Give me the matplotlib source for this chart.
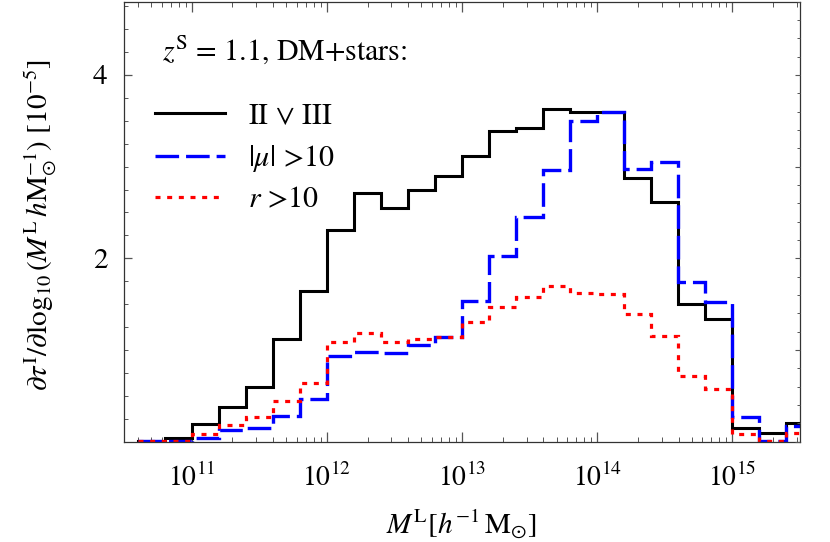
import numpy as np
import matplotlib
matplotlib.use('Agg')
import matplotlib.pyplot as plt
from matplotlib.ticker import MultipleLocator, FixedLocator, LogLocator, NullFormatter

plt.rcParams['mathtext.fontset'] = 'stix'
plt.rcParams['font.family'] = ['STIXGeneral', 'DejaVu Serif']
plt.rcParams['lines.scale_dashes'] = False

# bin edges in log10(M / [h^-1 Msun])
log_edges = [10.6, 10.8, 11.0, 11.2, 11.4, 11.6, 11.8, 12.0, 12.2, 12.4, 12.6,
             12.8, 13.0, 13.2, 13.4, 13.6, 13.8, 14.0, 14.2, 14.4, 14.6, 14.8,
             15.0, 15.2, 15.4, 15.6]

# II v III (solid black)
vals_any = [0.01, 0.04, 0.19, 0.375, 0.60, 1.12, 1.64, 2.31, 2.71, 2.545, 2.74,
            2.90, 3.115, 3.39, 3.42, 3.625, 3.59, 3.60, 2.88, 2.61, 1.50, 1.335,
            0.153, 0.10, 0.20]
# |mu| > 10 (dashed blue)
vals_mu = [0.005, 0.01, 0.04, 0.13, 0.145, 0.28, 0.46, 0.93, 0.98, 0.97, 1.055,
           1.145, 1.53, 2.02, 2.45, 2.96, 3.50, 3.60, 2.975, 3.05, 1.74, 1.52,
           0.265, 0.005, 0.17]
# r > 10 (dotted red)
vals_r = [0.005, 0.01, 0.085, 0.18, 0.265, 0.44, 0.64, 1.09, 1.18, 1.085, 1.115,
          1.145, 1.30, 1.465, 1.58, 1.70, 1.625, 1.61, 1.39, 1.15, 0.715, 0.575,
          0.08, 0.005, 0.10]

labels = [r'II $\vee$ III', r'$|\mu|$ >10', r'$r$ >10']
title = r'$z^{\mathrm{S}}$ = 1.1, DM+stars:'

fig = plt.figure(figsize=(8.3, 5.42), dpi=100)
ax = fig.add_axes([0.1496, 0.1851, 0.8142, 0.8121])

edges = 10 ** np.array(log_edges)

def stepline(vals, **kw):
    y = list(vals) + [vals[-1]]
    return ax.step(edges, y, where='post', solid_joinstyle='miter',
                   dash_joinstyle='miter', **kw)

stepline(vals_any, color='black', lw=2.2, label=labels[0])
stepline(vals_mu, color='#0000ff', lw=2.4, dashes=(17, 5), label=labels[1])
stepline(vals_r, color='#ff0000', lw=2.3, dashes=(3.6, 4.8), label=labels[2])

ax.set_xscale('log')
ax.set_xlim(10 ** 10.5, 10 ** 15.5)
ax.set_ylim(0, 4.8)

tick_color = '#555555'
for s in ax.spines.values():
    s.set_color('#333333')
    s.set_linewidth(0.9)

ax.xaxis.set_major_locator(LogLocator(base=10, numticks=10))
ax.xaxis.set_minor_locator(LogLocator(base=10, subs=np.arange(2, 10), numticks=20))
ax.xaxis.set_minor_formatter(NullFormatter())
ax.tick_params(axis='x', which='both', direction='in', top=True, bottom=True,
               color=tick_color, labelsize=20, pad=16)
ax.tick_params(axis='x', which='major', length=7, width=0.9)
ax.tick_params(axis='x', which='minor', length=3.5, width=0.7)

ax.yaxis.set_major_locator(FixedLocator([2, 4]))
ax.yaxis.set_minor_locator(MultipleLocator(0.25))
ax.tick_params(axis='y', which='both', direction='in', left=True, right=False,
               color=tick_color, labelsize=21, pad=12)
ax.tick_params(axis='y', which='major', length=6, width=0.9)
ax.tick_params(axis='y', which='minor', length=3, width=0.7)

tw = ax.twinx()
tw.set_ylim(0, 4.8)
tw.yaxis.set_major_locator(MultipleLocator(1))
tw.yaxis.set_minor_locator(MultipleLocator(0.2))
tw.tick_params(axis='y', which='both', direction='in', right=True, left=False,
               labelright=False, color=tick_color)
tw.tick_params(axis='y', which='major', length=3.5, width=0.8)
tw.tick_params(axis='y', which='minor', length=2.2, width=0.7)
for s in tw.spines.values():
    s.set_visible(False)

ax.text(0.0555, 0.867, title, transform=ax.transAxes, fontsize=21.5,
        ha='left', va='baseline')

leg = ax.legend(loc='upper left', bbox_to_anchor=(0.0456, 0.77), frameon=False,
                fontsize=21.5, handlelength=2.35, handletextpad=0.75,
                labelspacing=0.42, borderpad=0, borderaxespad=0)

fig.text(40 / 830, 1 - 225 / 542,
         r'$\partial\tau^{\mathrm{I}}/\partial\log_{10}(M^{\mathrm{L}}\,h\mathrm{M}_{\odot}^{-1})$ [$10^{-5}$]',
         rotation=90, ha='center', va='center', fontsize=21)
fig.text(461 / 830, 1 - 524 / 542,
         r'$M^{\mathrm{L}}[h^{-1}\,\mathrm{M}_{\odot}]$',
         ha='center', va='center', fontsize=21)

fig.savefig('out.png', dpi=100)
